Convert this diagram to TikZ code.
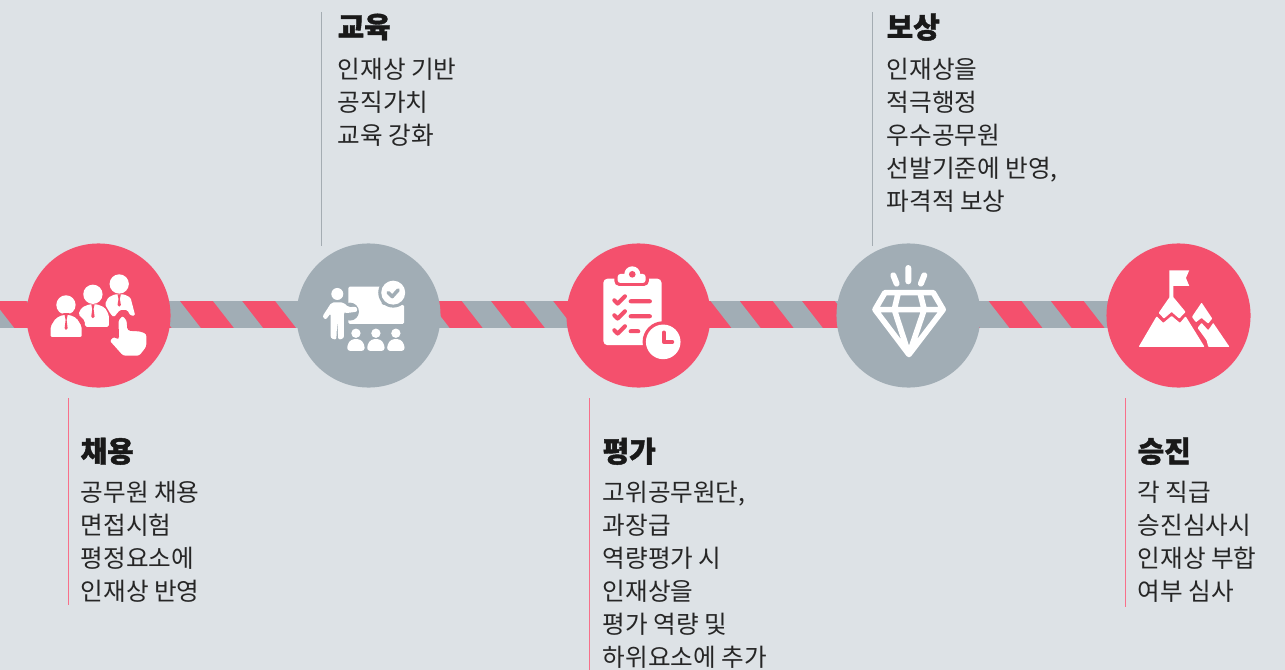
\documentclass[tikz,border=0pt]{standalone}
\usepackage{fontspec}
\setmainfont{Noto Sans CJK KR}
\newfontfamily\headfont[FakeBold=1.4]{Noto Sans CJK KR Black}
\definecolor{PageGray}{HTML}{DDE2E6}
\definecolor{MainRed}{HTML}{F4506D}
\definecolor{MainGray}{HTML}{A1ADB5}
\definecolor{RuleRed}{HTML}{F8708A}
\definecolor{RuleGray}{HTML}{A4ACB2}
\tikzset{
	stepcircle/.style={circle,minimum size=1.44cm,inner sep=0pt},
	headtext/.style={anchor=north west,inner sep=0pt,font=\headfont\fontsize{8.2pt}{10pt}\selectfont,text=black!90},
	bodytext/.style={anchor=north west,inner sep=0pt,align=left,font=\fontsize{7pt}{9.39pt}\selectfont,text=black!85},
	zoomed/.style={x=0.003333cm,y=-0.003333cm},
	icon/.style={line cap=round,line join=round}
}
\begin{document}
\begin{tikzpicture}[x=0.01cm,y=-0.01cm]
			\useasboundingbox (0,0) rectangle (1285,670);
			\fill[PageGray] (0,0) rectangle (1285,670);
			
			% striped band
			\fill[MainRed] (0,301) rectangle (1178,328);
			\begin{scope}
				\clip (0,301.5) rectangle (1178,327.2);
				\foreach \k in {-4,...,15}
					\fill[MainGray] ({213+62.2*\k},301) -- ({242+62.2*\k},301) -- ({263+62.2*\k},328) -- ({234+62.2*\k},328) -- cycle;
			\end{scope}
			
			\node[stepcircle,fill=MainRed] (Chaeyong) at (98.5,315.5) {};
			\node[stepcircle,fill=MainGray] (Gyoyuk) at (368.5,315.5) {};
			\node[stepcircle,fill=MainRed] (Pyeongga) at (638.5,315.5) {};
			\node[stepcircle,fill=MainGray] (Bosang) at (908.5,315.5) {};
			\node[stepcircle,fill=MainRed] (Seungjin) at (1178.5,315.5) {};
			
			\coordinate (ChaeyongTop) at (68.5,398);
			\coordinate (ChaeyongEnd) at (68.5,605);
			\coordinate (GyoyukTop) at (321.5,12);
			\coordinate (GyoyukEnd) at (321.5,246);
			\coordinate (PyeonggaTop) at (589.5,398);
			\coordinate (PyeonggaEnd) at (589.5,670);
			\coordinate (BosangTop) at (872.5,12);
			\coordinate (BosangEnd) at (872.5,246);
			\coordinate (SeungjinTop) at (1125.5,398);
			\coordinate (SeungjinEnd) at (1125.5,607);
			\draw[RuleRed,line width=0.4pt] (ChaeyongTop) to (ChaeyongEnd);
			\draw[RuleGray,line width=0.3pt] (GyoyukTop) to (GyoyukEnd);
			\draw[RuleRed,line width=0.4pt] (PyeonggaTop) to (PyeonggaEnd);
			\draw[RuleGray,line width=0.3pt] (BosangTop) to (BosangEnd);
			\draw[RuleRed,line width=0.4pt] (SeungjinTop) to (SeungjinEnd);
			
			\node[headtext] (ChaeyongHead) at (80,437) {채용};
			\node[bodytext] (ChaeyongText) at (80,480) {공무원 채용\\면접시험\\평정요소에\\인재상 반영};
			\node[headtext] (GyoyukHead) at (337,13) {교육};
			\node[bodytext] (GyoyukText) at (337,57) {인재상 기반\\공직가치\\교육 강화};
			\node[headtext] (PyeonggaHead) at (602,437) {평가};
			\node[bodytext] (PyeonggaText) at (602,480) {고위공무원단,\\과장급\\역량평가 시\\인재상을\\평가 역량 및\\하위요소에 추가};
			\node[headtext] (BosangHead) at (886,13) {보상};
			\node[bodytext] (BosangText) at (886,57) {인재상을\\적극행정\\우수공무원\\선발기준에 반영,\\파격적 보상};
			\node[headtext] (SeungjinHead) at (1137,437) {승진};
			\node[bodytext] (SeungjinText) at (1137,480) {각 직급\\승진심사시\\인재상 부합\\여부 심사};
			
			% people and pointing hand
			\begin{scope}[shift={(40,265)},zoomed]
				\fill[white] (78,120) circle (29) (159,88) circle (29) (238,57) circle (29);
				\fill[white,rounded corners=0.5pt] (115,148) -- (125,128) -- (148,118) -- (172,118) -- (195,128) -- (207,150) -- (207,186) -- (135,186) -- (135,168) -- cycle;
				\fill[white,rounded corners=0.4pt] (195,118) -- (205,98) -- (225,88) -- (252,88) -- (272,98) -- (286,152) -- (272,152) -- (262,135) -- (240,135) -- (222,157) -- (212,147) -- cycle;
				\fill[white,draw=MainRed,line width=0.5pt,rounded corners=0.6pt] (29,219) -- (29,183) -- (46,157) -- (68,147) -- (90,147) -- (112,157) -- (128,183) -- (128,219) -- cycle;
				\fill[MainRed] (74,150) -- (83,150) -- (80,165) -- (83,190) -- (78,195) -- (74,190) -- (77,165) -- cycle;
				\fill[MainRed] (154,118) -- (164,118) -- (161,132) -- (164,155) -- (159,160) -- (154,155) -- (157,132) -- cycle;
				\fill[MainRed] (233,88) -- (243,88) -- (240,102) -- (243,120) -- (238,125) -- (233,120) -- (236,102) -- cycle;
				\fill[white,rounded corners=0.7pt,draw=MainRed,line width=0.5pt] (233,165) -- (248,149) -- (263,165) -- (265,195) -- (302,197) -- (322,205) -- (322,247) -- (300,275) -- (248,275) -- (206,228) -- (222,212) -- (235,222) -- cycle;
			\end{scope}
			
			% presenter with board
			\begin{scope}[shift={(315,270)},zoomed]
				\fill[white,rounded corners=0.4pt] (100,50) -- (200,50) -- (200,105) -- (268,105) -- (268,162) -- (100,162) -- cycle;
				\fill[MainGray] (105,125) circle (27);
				\fill[MainGray] (235,68) circle (45);
				\fill[white] (235,68) circle (36);
				\draw[icon,MainGray,line width=1pt] (220,68) -- (232,80) -- (250,60);
				\fill[white] (67,72) circle (18);
				\fill[white,rounded corners=0.6pt] (50,97) -- (85,97) -- (100,112) -- (125,110) -- (128,125) -- (90,130) -- (87,125) -- (87,205) -- (70,210) -- (67,150) -- (64,210) -- (47,205) -- (47,130) -- (32,150) -- (22,140) -- cycle;
				\foreach \px in {123,183,243}{
					\fill[white] (\px,190) circle (14);
					\fill[white,rounded corners=0.8pt] ({\px-26},243) -- ({\px-26},225) -- ({\px-14},208) -- ({\px+14},208) -- ({\px+26},225) -- ({\px+26},243) -- cycle;
				}
			\end{scope}
			
			% clipboard with clock
			\begin{scope}[shift={(595,262)},zoomed]
				\fill[white,rounded corners=1.2pt] (25,50) rectangle (200,250);
				\fill[MainRed,rounded corners=1.4pt] (58,30) rectangle (162,72);
				\fill[white,rounded corners=0.8pt] (68,36) rectangle (152,63);
				\fill[white] (112,37) circle (24);
				\fill[MainRed] (112,37) circle (10);
				\draw[icon,MainRed,line width=1.15pt] (58,115) -- (68,125) -- (90,103) (58,160) -- (68,170) -- (90,148) (58,205) -- (68,215) -- (90,193) (107,118) -- (165,118) (107,163) -- (165,163) (107,208) -- (130,208);
				\fill[MainRed] (205,240) circle (62);
				\fill[white] (205,240) circle (52);
				\draw[icon,MainRed,line width=1.15pt] (207,212) -- (207,240) -- (232,240);
			\end{scope}
			
			% diamond
			\begin{scope}[shift={(865,262)},zoomed]
				\draw[icon,white,line width=1.6pt] (60,92) -- (205,92) -- (235,143) -- (132,278) -- (30,143) -- cycle (30,143) -- (235,143) (100,92) -- (88,143) -- (132,278) -- (178,143) -- (165,92);
				\draw[icon,white,line width=1.7pt] (85,40) -- (95,65) (130,18) -- (130,58) (178,40) -- (168,65);
			\end{scope}
			
			% mountain with flag
			\begin{scope}[shift={(1130,262)},zoomed]
				\fill[white] (118,25) -- (178,25) -- (168,48) -- (178,72) -- (130,72) -- (130,105) -- (118,105) -- cycle;
				\fill[white,rounded corners=0.2pt] (124,98) -- (167,150) -- (148,170) -- (125,150) -- (102,170) -- (86,153) -- cycle;
				\fill[white,rounded corners=0.2pt] (80,163) -- (100,183) -- (125,162) -- (150,183) -- (167,163) -- (224,255) -- (26,255) -- cycle;
				\fill[white,rounded corners=0.2pt] (215,122) -- (247,170) -- (235,185) -- (215,168) -- (198,181) -- (186,165) -- cycle;
				\fill[white,rounded corners=0.2pt] (203,198) -- (215,183) -- (235,205) -- (250,183) -- (299,255) -- (235,255) -- (230,235) -- cycle;
			\end{scope}
\end{tikzpicture}
\end{document}
